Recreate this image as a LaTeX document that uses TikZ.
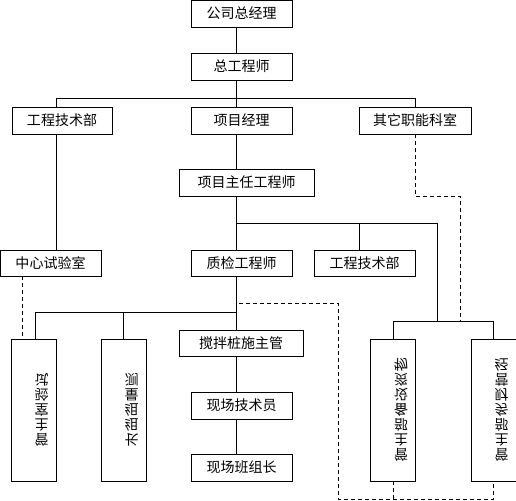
\documentclass[tikz,border=0pt]{standalone}
\usepackage{fontspec}
\newfontfamily\cjk{Noto Sans CJK SC}
\usepackage{graphicx}
\usetikzlibrary{positioning}
% upside-down glyphs of the vertical boxes
\newcommand\fch[1]{\rotatebox[origin=c]{180}{\reflectbox{#1}}}
\newcommand\vname[1]{\kern16pt\vbox{\baselineskip=15pt\lineskiplimit=-\maxdimen
  \foreach \x in {#1}{\hbox{\fch{\x}}}}}
\tikzset{
  post/.style={draw, line width=0.9pt, inner sep=0pt, minimum height=27pt,
    minimum width=101pt, font=\cjk\fontsize{14}{15}\selectfont},
  vpost/.style={post, minimum width=45pt, minimum height=142pt},
  link/.style={line width=0.9pt},
  dlink/.style={link, dash pattern=on 4pt off 3pt},
}
\begin{document}
\begin{tikzpicture}[x=1pt,y=-1pt]
  \useasboundingbox (0,0) rectangle (516,500);
  % top levels
  \node[post] (gm) at (241.5,13.5) {公司总经理};
  \node[post] (ce) at (241.5,66.5) {总工程师};
  \node[post, minimum width=100pt] (tech) at (62,120.5) {工程技术部};
  \node[post] (pm) at (241.5,120.5) {项目经理};
  \node[post, minimum width=112pt] (other) at (415,120.5) {其它职能科室};
  \node[post, minimum width=135pt] (chief) at (246.5,182.5) {项目主任工程师};
  % third level
  \node[post, minimum height=26pt] (lab) at (50.5,263) {中心试验室};
  \node[post, minimum height=26pt] (qc) at (241.5,263) {质检工程师};
  \node[post, minimum height=26pt] (tech2) at (364.5,263) {工程技术部};
  % bottom
  \node[vpost] (labm) at (33.5,410) {\vname{试,验,室,主,管}};
  \node[vpost] (surv) at (123.5,410) {\vname{测,量,组,组,长}};
  \node[post, minimum width=124pt, minimum height=26pt] (mix) at (241,343) {搅拌桩施主管};
  \node[post] (site) at (241.5,405.5) {现场技术员};
  \node[post] (crew) at (241.5,467.5) {现场班组长};
  \node[vpost] (mat) at (393,410) {\vname{物,资,设,备,部,主,管}};
  \node[vpost] (fin) at (493.5,410) {\vname{经,营,财,务,部,主,管}};
  % joints
  \coordinate (spine) at (236,0);
  \coordinate (b1) at (236,98);
  \coordinate (b2) at (236,223);
  \coordinate (b3) at (236,312);
  \coordinate (b4) at (437,321);
  \coordinate (dr) at (460,321);
  \coordinate (dq) at (239,303);
  \coordinate (db) at (338,499);
  % solid links
  \draw[link] (gm.south -| spine) -- (ce.north -| spine);
  \draw[link] (ce.south -| spine) -- (pm.north -| spine);
  \draw[link] ([xshift=-6pt]tech.north) |- (other.north |- b1) -- (other.north);
  \draw[link] ([xshift=-6pt]tech.south) -- ([xshift=5.5pt]lab.north);
  \draw[link] (pm.south -| spine) -- (chief.north -| spine);
  \draw[link] (chief.south -| spine) -- (qc.north -| spine);
  \draw[link] (b2) -| (b4);
  \draw[link] ([xshift=-5.5pt]tech2.north) -- ([xshift=-5.5pt]tech2.north |- b2);
  \draw[link] (mat.north) |- (fin.north |- b4) -- (fin.north);
  \draw[link] (qc.south -| spine) -- (mix.north -| spine);
  \draw[link] ([xshift=1.5pt]labm.north) |- (b3);
  \draw[link] (surv.north) -- (surv.north |- b3);
  \draw[link] (mix.south -| spine) -- (site.north -| spine);
  \draw[link] (site.south -| spine) -- (crew.north -| spine);
  % dashed links
  \draw[dlink] (other.south) -- (other.south |- chief.south) -| (dr);
  \draw[dlink] ([xshift=-28.5pt]lab.south) -- ([xshift=-11.5pt]labm.north);
  \draw[dlink] (dq) -| (db) -| (fin.south);
  \draw[dlink] (mat.south) -- (mat.south |- db);
\end{tikzpicture}
\end{document}
